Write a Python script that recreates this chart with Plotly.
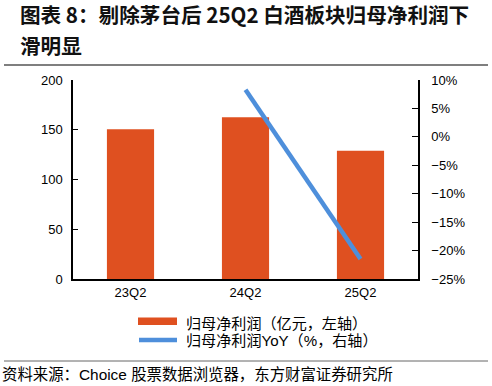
import plotly.graph_objects as go

categories = ["23Q2", "24Q2", "25Q2"]
net_profit = [150.5, 162.5, 128.8]          # 亿元, left axis
net_profit_yoy = [None, 8.3, -21.5]         # %, right axis
left_ticks = [0, 50, 100, 150, 200]
right_ticks = [-25, -20, -15, -10, -5, 0, 5, 10]
right_labels = ["−25%", "−20%", "−15%", "−10%", "−5%", "0%", "5%", "10%"]

BAR = "#DF5020"
LINE = "#4E8FDB"
FONT = "Liberation Sans, Arial, Noto Sans CJK SC, sans-serif"
CJK = "Noto Sans CJK SC, sans-serif"

fig = go.Figure()
fig.add_trace(go.Bar(x=categories, y=net_profit, marker_color=BAR, marker_line_width=0,
                     name="归母净利润（亿元，左轴）", yaxis="y"))
fig.add_trace(go.Scatter(x=categories, y=net_profit_yoy, mode="lines",
                         line=dict(color=LINE, width=4.5), connectgaps=False,
                         name="归母净利润YoY（%，右轴）", yaxis="y2"))

fig.update_layout(
    width=492, height=386,
    margin=dict(l=73, r=74, t=80, b=107),
    paper_bgcolor="white", plot_bgcolor="white",
    showlegend=False, bargap=0.59,
    font=dict(family=FONT, size=13, color="black"),
    xaxis=dict(type="category", showline=True, linecolor="black", linewidth=2,
               ticks="", showgrid=False, tickfont=dict(size=13)),
    yaxis=dict(range=[0, 200], tickvals=left_ticks, showline=True, linecolor="black",
               linewidth=1.5, ticks="inside", ticklen=5, tickcolor="black",
               showgrid=False, zeroline=False, tickfont=dict(size=13), ticklabelstandoff=6),
    yaxis2=dict(range=[-25, 10], tickvals=right_ticks, ticktext=right_labels, overlaying="y",
                side="right", showline=True, linecolor="black", linewidth=1.5,
                ticks="inside", ticklen=6, tickcolor="black", showgrid=False,
                zeroline=False, tickfont=dict(size=13), ticklabelstandoff=9),
)

def px_x(p):
    return (p - 73) / 345

def px_y(p):
    return (279 - p) / 199

# title
fig.add_annotation(xref="paper", yref="paper", x=px_x(18), y=px_y(14),
                   xanchor="left", yanchor="middle", showarrow=False,
                   text="<b>图表 8：剔除茅台后 25Q2 白酒板块归母净利润下</b>",
                   font=dict(family=CJK, size=20.6, color="#111"))
fig.add_annotation(xref="paper", yref="paper", x=px_x(18), y=px_y(45),
                   xanchor="left", yanchor="middle", showarrow=False,
                   text="<b>滑明显</b>",
                   font=dict(family=CJK, size=20.6, color="#111"))

# separator lines
fig.add_shape(type="line", xref="paper", yref="paper", x0=px_x(4), x1=px_x(488),
              y0=px_y(65), y1=px_y(65), line=dict(color="#555", width=1.5))
fig.add_shape(type="line", xref="paper", yref="paper", x0=px_x(4), x1=px_x(488),
              y0=px_y(361), y1=px_y(361), line=dict(color="#666", width=1))

# legend (manual)
fig.add_shape(type="rect", xref="paper", yref="paper", x0=px_x(138), x1=px_x(177),
              y0=px_y(325), y1=px_y(317.5), fillcolor=BAR, line=dict(width=0))
fig.add_shape(type="line", xref="paper", yref="paper", x0=px_x(139), x1=px_x(177),
              y0=px_y(340), y1=px_y(340), line=dict(color=LINE, width=4.5))
fig.add_annotation(xref="paper", yref="paper", x=px_x(184), y=px_y(321.5),
                   xanchor="left", yanchor="middle", showarrow=False,
                   text="归母净利润（亿元，左轴）", font=dict(family=CJK, size=15.1))
fig.add_annotation(xref="paper", yref="paper", x=px_x(184), y=px_y(340.5),
                   xanchor="left", yanchor="middle", showarrow=False,
                   text="归母净利润YoY（%，右轴）", font=dict(family=FONT, size=15.1))

# source
fig.add_annotation(xref="paper", yref="paper", x=px_x(0), y=px_y(374),
                   xanchor="left", yanchor="middle", showarrow=False,
                   text="资料来源：Choice 股票数据浏览器，东方财富证券研究所",
                   font=dict(family=FONT, size=15.4))

fig.write_html("out.html", config={"displayModeBar": False},
               post_script="document.body.style.margin='0';document.body.style.overflow='hidden';")
